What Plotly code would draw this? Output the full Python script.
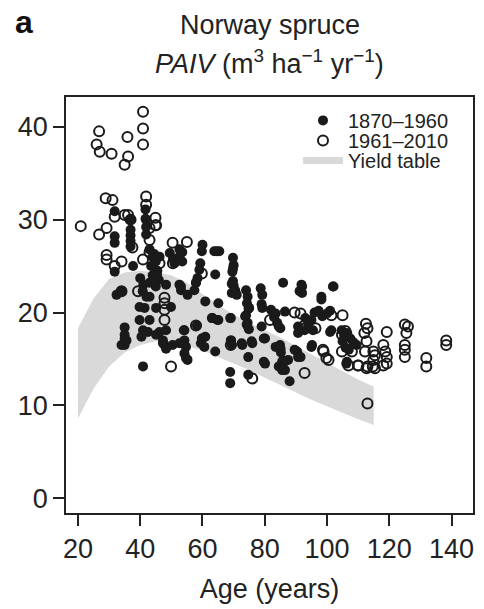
import plotly.graph_objects as go

# ---- data ----
band_age = [20, 25, 30, 35, 40, 45, 50, 55, 60, 65, 70, 75, 80, 85, 90, 95, 100, 105, 110, 115]
band_upper = [18.3, 21.5, 23.6, 24.3, 24.5, 24.3, 24.0, 23.2, 22.0, 20.8, 19.8, 18.9, 18.1, 17.3, 16.4, 15.5, 14.6, 13.7, 12.8, 12.0]
band_lower = [8.6, 11.8, 14.2, 15.7, 16.5, 16.9, 16.8, 16.4, 15.9, 15.2, 14.5, 13.8, 13.0, 12.2, 11.4, 10.6, 9.9, 9.2, 8.5, 7.9]

old_age = [31.8, 31.8, 31.8, 36.9, 36.9, 36.9, 36.9, 36.9, 41.7, 41.7, 41.9, 41.9, 41.9,
           31.8, 37.7,
           43, 44, 45, 43.5, 45.5, 44, 46, 43, 45, 44.5, 46.2,
           49.5, 50.5, 51, 53.5, 53.5, 52.6, 52.6,
           48.3, 52.6, 53.1, 55.2, 57.9, 53.1,
           40, 41, 40.8, 42, 32.4, 34, 43,
           39.8, 41.4, 45.1, 49.9,
           39.8, 43, 40.9, 35, 35, 35, 35, 34, 35.6,
           40.4, 42.5, 46.2, 45.1, 48.3, 47.3, 47.8, 50.4, 47.3, 48.3,
           54.2, 54.2, 54.7, 53.6, 54.2, 55.2, 40.9,
           54, 58.2, 60, 59.5, 60.6, 59.8, 60.9,
           59.8, 60, 63.8, 65.4, 64.6, 59.3, 59, 58.4, 57.9, 57.4, 64.1,
           69.8, 69.8, 69.8, 69.4, 70, 69.6, 70, 70.5, 71, 69.4,
           74, 74.5, 74.3, 74.8, 74, 75, 74.5,
           78.7, 79.2, 79, 79.2,
           85.9, 91.8, 91.2, 92, 92, 98.2, 98.2, 101.9, 102.1,
           60.9, 65.1, 63, 65.1, 68.9, 73.7, 79, 80.1,
           82, 83, 84, 85, 83.5, 84.5, 86.5,
           90.7, 90.7, 92.8,
           95, 96, 97.3, 98.5, 100, 101, 101.4, 101, 93, 94, 95.5,
           104.7, 105.5, 106.5, 107.5, 108.5, 109.5, 106, 107, 105,
           106.2, 106.4,
           84.9, 85.2, 86, 86.5, 90.7, 89.6, 87.5, 95, 80.1, 74.7, 74.7, 68.9, 68.9, 64.1,
           69.4, 72.6, 75.8, 69.2, 72.8, 76,
           88, 79.7, 83.5, 85.1, 84.5, 85.6, 90.4, 95.2, 91.5,
           52.6, 54.7,
           74.2, 79.7, 74.9, 69.1, 64.8, 63.2, 69.1]
old_val = [30.9, 28.2, 27.5, 30.0, 28.9, 28.3, 27.7, 27.1, 31.1, 30.1, 30.0, 29.2, 28.4,
           24.4, 25.0,
           26.8, 26.0, 25.5, 25.0, 24.5, 24.0, 23.5, 23.2, 22.8, 26.3, 26.0,
           26.4, 25.8, 25.3, 26.5, 25.5, 26.8, 26.0,
           23.0, 23.0, 22.4, 21.9, 23.2, 22.8,
           23.7, 23.0, 22.3, 21.7, 21.9, 22.3, 21.7,
           20.6, 20.5, 20.5, 20.6,
           19.2, 19.2, 18.1, 18.4, 17.6, 17.2, 16.5, 16.5, 17.0,
           17.4, 17.9, 17.9, 17.6, 18.1, 17.0, 16.5, 16.5, 16.7, 16.1,
           18.1, 17.0, 16.3, 16.7, 15.6, 14.9, 14.2,
           18.1, 18.6, 17.2, 16.7, 16.3, 17.2, 17.4,
           26.6, 27.3, 26.6, 26.6, 26.6, 25.3, 24.6, 23.7, 23.2, 22.4, 24.1,
           25.9, 24.7, 23.4, 23.1, 25.1, 24.4, 22.9, 22.4, 21.9, 22.1,
           22.4, 21.7, 21.0, 20.4, 19.7, 20.5, 18.9,
           22.6, 21.9, 20.9, 20.5,
           23.2, 23.0, 22.3, 22.8, 22.1, 21.7, 21.4, 22.8, 22.8,
           21.2, 21.0, 19.4, 19.2, 19.4, 19.6, 18.5, 17.2,
           20.3, 19.5, 18.9, 18.3, 19.9, 18.5, 20.1,
           18.5, 17.8, 18.1,
           19.2, 20.0, 20.2, 19.6, 19.9, 20.2, 18.1, 17.9, 19.4, 18.8, 18.1,
           18.1, 17.5, 17.8, 17.2, 16.8, 16.5, 16.2, 16.0, 16.9,
           14.5, 14.7,
           16.5, 15.7, 14.8, 13.8, 15.2, 16.0, 14.9, 16.3, 14.5, 15.2, 13.3, 13.6, 12.4, 15.8,
           16.5, 16.7, 16.9, 17.0, 16.5, 16.7,
           12.6, 14.7, 16.3, 16.1, 14.2, 13.8, 15.8, 16.5, 15.2,
           16.7, 15.1,
           18.7, 17.2, 18.2, 19.4, 19.2, 19.4, 17.0]

new_age = [40.9, 40.9, 40.9, 26.8, 26.0, 27.0, 30.8, 35.9, 36.1, 35.0,
           28.9, 31.1, 41.9, 41.9, 31.8, 35, 36.1, 36.9, 44.9, 44.9,
           20.9, 26.8, 29.2, 43, 43, 43, 45.1, 29.2, 29.2, 34, 31.8,
           40.9, 46.2, 45.1, 50.4, 55, 50.5, 37.5,
           34, 39.3, 47.8, 47.8, 47.8, 47.8, 57.9, 49.9,
           59.8, 89.6, 81.7, 92.8, 101.4, 105, 91.5, 93, 96.3,
           98.7, 99.8, 98.9, 100.5,
           109.9, 113, 114.7, 112.5, 113, 112, 113, 92.8, 85.9, 76, 69.1,
           104.8, 105.9, 104.8, 108, 112.7, 112.2, 114.9, 115.4, 114.9, 118.1, 118.7, 119.2, 119.2, 118.1, 115.4, 112.7, 110.1, 106.9,
           119.2, 125, 126, 125.5, 125, 125, 125, 131.9, 131.9, 138.3, 138.3]
new_val = [41.6, 39.8, 38.1, 39.5, 38.1, 37.3, 37.1, 38.9, 36.8, 35.9,
           32.3, 32.1, 32.5, 31.6, 30.3, 30.5, 30.5, 30.0, 30.2, 29.4,
           29.3, 28.4, 29.1, 29.1, 27.8, 26.5, 29.4, 26.2, 25.7, 25.5, 25.0,
           25.7, 25.3, 24.1, 27.5, 27.6, 25.3, 27.0,
           22.3, 22.3, 21.6, 21.0, 20.3, 19.2, 18.6, 14.2,
           24.2, 20.0, 19.2, 18.6, 19.7, 19.7, 19.9, 18.3, 18.3,
           16.0, 15.1, 15.8, 14.9,
           14.3, 14.2, 14.2, 18.8, 18.3, 17.8, 10.2, 13.5, 14.7, 12.9, 16.5,
           17.6, 18.0, 15.8, 15.8, 16.9, 15.8, 15.8, 15.4, 14.9, 16.5, 15.8, 15.2, 14.5, 14.3, 14.0, 14.0, 14.3, 14.3,
           17.9, 18.7, 18.5, 17.8, 16.5, 16.0, 15.2, 15.1, 14.2, 17.0, 16.5]

x_ticks = [20, 40, 60, 80, 100, 120, 140]
y_ticks = [0, 10, 20, 30, 40]

FONT = "Liberation Sans, Arial, sans-serif"
INK = "#1a1a1a"
BAND = "#d9d9d9"

fig = go.Figure()
fig.add_trace(go.Scatter(
    x=band_age + band_age[::-1], y=band_upper + band_lower[::-1],
    mode="lines", fill="toself", fillcolor=BAND, line=dict(width=0, color=BAND),
    showlegend=False, hoverinfo="skip"))
fig.add_trace(go.Scatter(
    x=old_age, y=old_val, mode="markers", name="1870\u20131960", legend="legend",
    marker=dict(symbol="circle", size=10, color=INK, line=dict(width=0))))
fig.add_trace(go.Scatter(
    x=new_age, y=new_val, mode="markers", name="1961\u20132010", legend="legend2",
    marker=dict(symbol="circle-open", size=10, color=INK, line=dict(width=2, color=INK))))
fig.add_trace(go.Scatter(
    x=[None], y=[None], mode="lines", name="Yield table", legend="legend3",
    line=dict(color=BAND, width=7)))

leg_common = dict(xanchor="left", yanchor="top", font=dict(size=20, color="#222222"),
                  bgcolor="rgba(0,0,0,0)", itemwidth=40, borderwidth=0)
lx = 0.57

fig.update_layout(
    width=484, height=609,
    margin=dict(l=66, r=9, t=97, b=96),
    paper_bgcolor="white", plot_bgcolor="white",
    font=dict(family=FONT, size=27, color="#222222"),
    showlegend=True,
    legend=dict(x=lx, y=0.9906, **leg_common),
    legend2=dict(x=lx, y=0.9425, **leg_common),
    legend3=dict(x=lx, y=0.8944, **leg_common),
    xaxis=dict(range=[16.16, 146.9], tickvals=x_ticks, ticks="outside", ticklen=11,
               tickwidth=1.5, tickcolor="#222222", showline=True, linewidth=1.5,
               linecolor="#222222", mirror=True, showgrid=False, zeroline=False,
               title=dict(text="Age (years)", font=dict(size=27), standoff=16)),
    yaxis=dict(range=[-1.58, 43.2], tickvals=y_ticks, ticks="outside", ticklen=11,
               tickwidth=1.5, tickcolor="#222222", showline=True, linewidth=1.5,
               linecolor="#222222", mirror=True, showgrid=False, zeroline=False),
    annotations=[
        dict(text="<b>a</b>", x=-0.13, xref="paper", y=1, yref="paper", yshift=95,
             showarrow=False, xanchor="left", yanchor="top",
             font=dict(size=32, color="#111111")),
        dict(text="Norway spruce", x=0.5, xref="paper", y=1, yref="paper",
             yshift=72, showarrow=False, xanchor="center", yanchor="middle",
             font=dict(size=27)),
        dict(text="<i>PAIV</i> (m<sup>3</sup> ha<sup>\u22121</sup> yr<sup>\u22121</sup>)",
             x=0.5, xref="paper", y=1, yref="paper", yshift=35, showarrow=False,
             xanchor="center", yanchor="middle", font=dict(size=27)),
    ],
)

fig.write_html("out.html")
